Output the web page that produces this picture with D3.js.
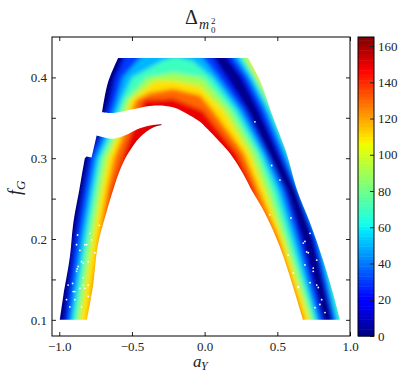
<!DOCTYPE html>
<html>
<head>
<meta charset="utf-8">
<script src="https://cdn.jsdelivr.net/npm/d3@7"></script>
<style>
  body { margin: 0; background: #fff; }
  text { font-family: "Liberation Serif", serif; fill: #222; }
  .axis text { font-size: 13px; }
  .axis line { stroke: #222; }
</style>
</head>
<body>
<div id="chart"></div>
<script>
// Values: aY, fG pairs

// outline of the lower scattered piece, one array per edge between corners
var lowerOuter = [[-0.996,0.100],[-0.973,0.129],[-0.927,0.178],[-0.904,0.219],[-0.863,0.260],[-0.847,0.277],[-0.824,0.300]];
var lowerStep = [[-0.824,0.300],[-0.812,0.302]];
var lowerStep2 = [[-0.812,0.302],[-0.778,0.301]];
var lowerStep3 = [[-0.778,0.301],[-0.743,0.328]];
var lowerTop = [[-0.743,0.328],[-0.698,0.326],[-0.640,0.324],[-0.583,0.326],[-0.526,0.330],[-0.445,0.337],[-0.354,0.341],[-0.296,0.342]];
var lowerInner = [[-0.296,0.341],[-0.354,0.338],[-0.445,0.326],[-0.526,0.306],[-0.583,0.285],[-0.629,0.261],[-0.674,0.234],[-0.734,0.193],[-0.769,0.141],[-0.810,0.100]];

// outline of the upper scattered piece
var upperLeft = [[-0.705,0.357],[-0.666,0.393],[-0.595,0.424]];
var upperTop = [[-0.595,0.424],[0.298,0.424]];
var upperOuter = [[0.298,0.424],[0.381,0.396],[0.470,0.351],[0.564,0.306],[0.633,0.262],[0.725,0.220],[0.814,0.174],[0.883,0.133],[0.931,0.100]];
var upperBase = [[0.931,0.100],[0.677,0.100]];
var upperInner = [[0.677,0.100],[0.608,0.141],[0.518,0.190],[0.415,0.232],[0.319,0.262],[0.264,0.281],[0.174,0.306],[0.105,0.320],[0.014,0.337],[-0.032,0.345],[-0.101,0.353],[-0.218,0.363],[-0.356,0.365],[-0.514,0.360],[-0.629,0.356],[-0.705,0.357]];

// where the colour value reaches a level, outside the zero curve (right side only)
var outer20 = [[0.110,0.460],[0.167,0.424],[0.264,0.400],[0.381,0.359],[0.511,0.306],[0.628,0.260],[0.752,0.200],[0.881,0.100]];
var outer40 = [[0.150,0.460],[0.209,0.424],[0.298,0.400],[0.415,0.359],[0.539,0.306],[0.646,0.260],[0.773,0.200],[0.897,0.100]];
var outer60 = [[0.180,0.460],[0.243,0.424],[0.326,0.400],[0.443,0.359],[0.566,0.306],[0.663,0.260],[0.794,0.200],[0.917,0.100]];
var outer80 = [[0.200,0.460],[0.270,0.424],[0.346,0.400],[0.470,0.359],[0.594,0.306],[0.690,0.260],[0.828,0.200],[0.952,0.100]];
var outer100 = [[0.220,0.460],[0.298,0.424],[0.367,0.400],[0.498,0.359],[0.628,0.306],[0.725,0.260],[0.862,0.200],[0.986,0.100]];

// same, inside the zero curve (arches, left to right)
var zeroCurve = [[-0.996,0.100],[-0.927,0.200],[-0.863,0.260],[-0.824,0.300],[-0.748,0.328],[-0.686,0.372],[-0.652,0.400],[-0.597,0.424],[-0.560,0.460],[0.050,0.460],[0.105,0.424],[0.209,0.400],[0.332,0.359],[0.470,0.306],[0.594,0.260],[0.711,0.200],[0.849,0.100]];
var inner20 = [[-0.955,0.100],[-0.886,0.200],[-0.831,0.260],[-0.789,0.300],[-0.727,0.328],[-0.645,0.372],[-0.610,0.400],[-0.549,0.424],[-0.500,0.460],[0.000,0.460],[0.057,0.424],[0.140,0.400],[0.291,0.359],[0.436,0.306],[0.560,0.260],[0.663,0.200],[0.814,0.100]];
var inner40 = [[-0.927,0.100],[-0.853,0.200],[-0.796,0.260],[-0.755,0.300],[-0.686,0.328],[-0.606,0.372],[-0.562,0.400],[-0.445,0.424],[-0.350,0.450],[-0.100,0.450],[-0.012,0.424],[0.092,0.400],[0.257,0.359],[0.415,0.306],[0.532,0.260],[0.635,0.200],[0.787,0.100]];
var inner60 = [[-0.906,0.100],[-0.824,0.200],[-0.769,0.260],[-0.727,0.300],[-0.659,0.328],[-0.571,0.372],[-0.500,0.400],[-0.300,0.420],[-0.200,0.426],[-0.080,0.420],[0.050,0.400],[0.222,0.359],[0.387,0.306],[0.498,0.260],[0.601,0.200],[0.766,0.100]];
var inner80 = [[-0.879,0.100],[-0.796,0.200],[-0.741,0.260],[-0.700,0.300],[-0.624,0.328],[-0.542,0.372],[-0.397,0.400],[-0.218,0.406],[-0.012,0.400],[0.181,0.359],[0.353,0.306],[0.456,0.260],[0.566,0.200],[0.743,0.100]];
var inner100 = [[-0.853,0.100],[-0.769,0.200],[-0.709,0.260],[-0.665,0.300],[-0.597,0.328],[-0.509,0.372],[-0.342,0.396],[-0.218,0.396],[-0.032,0.389],[0.133,0.359],[0.312,0.306],[0.415,0.260],[0.539,0.200],[0.718,0.100]];
var inner120 = [[-0.805,0.100],[-0.728,0.200],[-0.672,0.260],[-0.624,0.300],[-0.562,0.328],[-0.473,0.372],[-0.376,0.381],[-0.218,0.386],[-0.032,0.378],[0.057,0.359],[0.270,0.306],[0.374,0.260],[0.512,0.200],[0.684,0.100]];
var inner140 = [[-0.790,0.100],[-0.700,0.200],[-0.638,0.260],[-0.569,0.300],[-0.514,0.328],[-0.418,0.372],[-0.218,0.374],[-0.012,0.359],[0.222,0.306],[0.339,0.260],[0.380,0.200],[0.518,0.100]];
var inner160 = [[-0.650,0.100],[-0.530,0.300],[-0.460,0.322],[-0.400,0.332],[-0.300,0.346],[-0.150,0.345],[0.000,0.300],[0.300,0.100]];

// holes in the scatter
var gapA = [-0.874,-0.789,-0.847,-0.801,-0.877,-0.893,-0.778,-0.725,-0.858,-0.824,-0.908,-0.835,-0.881,-0.812,-0.778,-0.870,-0.881,-0.835,-0.904,-0.858,-0.824,-0.801,-0.939,-0.893,-0.927,-0.847,-0.801,-0.950,-0.835,-0.755,0.702,0.747,0.771,0.644,0.793,0.449,0.594,0.575,0.725,0.690,0.346,0.461,0.518,0.679,0.713,0.747,0.690,0.782,0.805,0.759,0.610,0.644,0.828,0.725,0.771];
var gapF = [0.205,0.207,0.172,0.172,0.163,0.135,0.129,0.217,0.186,0.193,0.145,0.143,0.193,0.193,0.199,0.166,0.160,0.170,0.135,0.139,0.139,0.129,0.143,0.125,0.116,0.116,0.143,0.125,0.152,0.183,0.184,0.164,0.143,0.141,0.119,0.230,0.226,0.180,0.207,0.197,0.345,0.291,0.273,0.195,0.183,0.160,0.168,0.140,0.125,0.115,0.158,0.140,0.109,0.146,0.174];

var xTicks = [-1.0, -0.5, 0, 0.5, 1.0];
var yTicks = [0.10, 0.15, 0.20, 0.25, 0.30, 0.35, 0.40];
var cbTicks = [0, 20, 40, 60, 80, 100, 120, 140, 160];
var cbMax = 165;
var xDomain = [-1.05, 1.0];
var yDomain = [0.08, 0.45];

// Set up the chart
var svgWidth = 415;
var svgHeight = 374;
var margin = { top: 37, right: 65, bottom: 38, left: 52 };

var svg = d3.select("#chart").append("svg")
    .attr("width", svgWidth)
    .attr("height", svgHeight)
    .style("display", "block");

var x = d3.scaleLinear().domain(xDomain).range([margin.left, svgWidth - margin.right]);
var y = d3.scaleLinear().domain(yDomain).range([svgHeight - margin.bottom, margin.top]);

// jet colormap
var jetStops = [0, 0.11, 0.125, 0.35, 0.375, 0.64, 0.66, 0.89, 0.91, 1];
var jetColors = ["#00007f", "#0000ff", "#0000ff", "#00e5ff", "#14ffeb", "#efff00", "#ffe800", "#ff0000", "#e80000", "#7f0000"];
var color = d3.scaleLinear()
    .domain(jetStops.map(d => d * cbMax))
    .range(jetColors);

var line = d3.line().x(d => x(d[0])).y(d => y(d[1]));
// edges are smooth in the reference but the corners stay sharp, so each edge is curved on its own
var edgeLine = d3.line().x(d => x(d[0])).y(d => y(d[1])).curve(d3.curveCatmullRom.alpha(0.5));

function outlinePath(edges) {
    return edges.map(e => edgeLine(e)).join("").replace(/M/g, "L").replace("L", "M") + "Z";
}

var defs = svg.append("defs");
defs.append("clipPath").attr("id", "scatterClip")
    .selectAll("path")
    .data([
        [lowerOuter, lowerStep, lowerStep2, lowerStep3, lowerTop, lowerInner],
        [upperLeft, upperTop, upperOuter, upperBase, upperInner]
    ])
    .join("path")
    .attr("d", d => outlinePath(d));

var blur = defs.append("filter").attr("id", "soften")
    .attr("filterUnits", "userSpaceOnUse")
    .attr("x", 0).attr("y", 0)
    .attr("width", svgWidth).attr("height", svgHeight);
blur.append("feGaussianBlur").attr("stdDeviation", 1.9);

// Colour bands, painted from the far right inwards
var bands = [
    { pts: outer100, value: 90, side: "outer" },
    { pts: outer80, value: 70, side: "outer" },
    { pts: outer60, value: 50, side: "outer" },
    { pts: outer40, value: 30, side: "outer" },
    { pts: outer20, value: 10, side: "outer" },
    { pts: inner20, value: 30, side: "inner" },
    { pts: inner40, value: 50, side: "inner" },
    { pts: inner60, value: 70, side: "inner" },
    { pts: inner80, value: 90, side: "inner" },
    { pts: inner100, value: 110, side: "inner" },
    { pts: inner120, value: 130, side: "inner" },
    { pts: inner140, value: 150, side: "inner" },
    { pts: inner160, value: 164, side: "inner" }
];

function closeBand(b) {
    var last = b.pts[b.pts.length - 1];
    if (b.side == "outer") {
        return [[xDomain[0], yDomain[0]], [xDomain[0], yDomain[1]]].concat(b.pts, [[last[0], yDomain[0]]]);
    }
    return [[b.pts[0][0], yDomain[0]]].concat(b.pts, [[last[0], yDomain[0]]]);
}

var scatter = svg.append("g").attr("clip-path", "url(#scatterClip)");
var soft = scatter.append("g").attr("filter", "url(#soften)");

soft.append("rect")
    .attr("x", x(xDomain[0]))
    .attr("y", y(yDomain[1]))
    .attr("width", x(xDomain[1]) - x(xDomain[0]))
    .attr("height", y(yDomain[0]) - y(yDomain[1]))
    .attr("fill", color(110));

soft.selectAll("path.band")
    .data(bands)
    .join("path")
    .attr("class", "band")
    .attr("d", d => line(closeBand(d)) + "Z")
    .attr("fill", d => color(d.value));

soft.append("path")
    .attr("d", line(zeroCurve))
    .attr("fill", "none")
    .attr("stroke", color(0))
    .attr("stroke-width", 7);

scatter.selectAll("circle")
    .data(gapA)
    .join("circle")
    .attr("cx", d => x(d))
    .attr("cy", (d, i) => y(gapF[i]))
    .attr("r", 0.9)
    .attr("fill", "#fff");

// Axes, ticks point inwards on all four sides
var plotW = x(xDomain[1]) - x(xDomain[0]);
var plotH = y(yDomain[0]) - y(yDomain[1]);

svg.append("g").attr("class", "axis")
    .attr("transform", `translate(0, ${y(yDomain[0])})`)
    .call(d3.axisBottom(x).tickValues(xTicks).tickSize(-4).tickPadding(6).tickFormat(d3.format(".1f")))
    .call(g => g.select(".domain").remove());

svg.append("g").attr("class", "axis")
    .attr("transform", `translate(0, ${y(yDomain[1])})`)
    .call(d3.axisTop(x).tickValues(xTicks).tickSize(-4).tickFormat(""))
    .call(g => g.select(".domain").remove());

svg.append("g").attr("class", "axis")
    .attr("transform", `translate(${x(xDomain[0])}, 0)`)
    .call(d3.axisLeft(y).tickValues(yTicks).tickSize(-4).tickPadding(5)
        .tickFormat(d => Math.round(d * 100) % 10 == 0 ? d3.format(".1f")(d) : ""))
    .call(g => g.select(".domain").remove());

svg.append("g").attr("class", "axis")
    .attr("transform", `translate(${x(xDomain[1])}, 0)`)
    .call(d3.axisRight(y).tickValues(yTicks).tickSize(-4).tickFormat(""))
    .call(g => g.select(".domain").remove());

svg.append("rect")
    .attr("x", x(xDomain[0]))
    .attr("y", y(yDomain[1]))
    .attr("width", plotW)
    .attr("height", plotH)
    .attr("fill", "none")
    .attr("stroke", "#000");

// Colorbar
var cbLeft = 358;
var cbWidth = 16;
var cbY = d3.scaleLinear().domain([0, cbMax]).range([y(yDomain[0]), y(yDomain[1])]);
var cbStep = cbMax / 90;

svg.append("g").selectAll("rect")
    .data(d3.range(0, cbMax, cbStep))
    .join("rect")
    .attr("x", cbLeft)
    .attr("y", d => cbY(d + cbStep))
    .attr("width", cbWidth)
    .attr("height", d => cbY(d) - cbY(d + cbStep) + 0.5)
    .attr("fill", d => color(d + cbStep / 2));

svg.append("g").attr("class", "axis")
    .attr("transform", `translate(${cbLeft + cbWidth}, 0)`)
    .call(d3.axisRight(cbY).tickValues(cbTicks).tickSize(-4).tickPadding(4))
    .call(g => g.select(".domain").remove());

svg.append("rect")
    .attr("x", cbLeft)
    .attr("y", y(yDomain[1]))
    .attr("width", cbWidth)
    .attr("height", plotH)
    .attr("fill", "none")
    .attr("stroke", "#000");

// Labels
svg.append("text").attr("x", 185).attr("y", 24).style("font-size", "20px").text("Δ");
svg.append("text").attr("x", 199).attr("y", 29).style("font-size", "14px").style("font-style", "italic").text("m");
svg.append("text").attr("x", 211).attr("y", 24).style("font-size", "9px").text("2");
svg.append("text").attr("x", 211).attr("y", 33).style("font-size", "9px").text("0");

svg.append("text").attr("x", 193).attr("y", 367).style("font-size", "17px").style("font-style", "italic").text("a");
svg.append("text").attr("x", 201).attr("y", 370).style("font-size", "12px").style("font-style", "italic").text("Y");

var yLabel = svg.append("text")
    .attr("transform", "translate(21, 195) rotate(-90)")
    .style("font-size", "18px")
    .style("font-style", "italic");
yLabel.append("tspan").text("f");
yLabel.append("tspan").attr("dy", 4).style("font-size", "13px").text("G");
</script>
</body>
</html>
